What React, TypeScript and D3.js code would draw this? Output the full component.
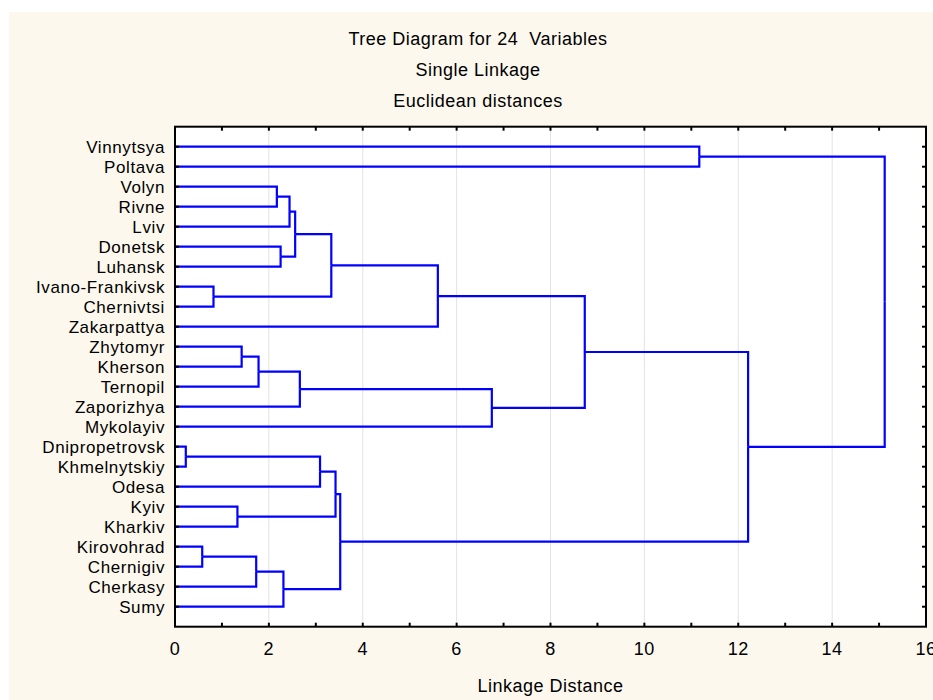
import React from "react";
import * as d3 from "d3";

// Leaf labels, in the order they are drawn from top to bottom
const leaves: string[] = [
  "Vinnytsya", "Poltava", "Volyn", "Rivne", "Lviv", "Donetsk", "Luhansk",
  "Ivano-Frankivsk", "Chernivtsi", "Zakarpattya", "Zhytomyr", "Kherson",
  "Ternopil", "Zaporizhya", "Mykolayiv", "Dnipropetrovsk", "Khmelnytskiy",
  "Odesa", "Kyiv", "Kharkiv", "Kirovohrad", "Chernigiv", "Cherkasy", "Sumy",
];

// Linkage matrix: [left id, right id, linkage distance].
// Ids below 24 are leaves; id 24 + k is the cluster formed in row k.
const merges: [number, number, number][] = [
  [15, 16, 0.23],
  [20, 21, 0.58],
  [7, 8, 0.82],
  [18, 19, 1.33],
  [10, 11, 1.42],
  [25, 22, 1.73],
  [28, 12, 1.78],
  [2, 3, 2.17],
  [5, 6, 2.25],
  [29, 23, 2.31],
  [31, 4, 2.44],
  [34, 32, 2.56],
  [30, 13, 2.66],
  [24, 17, 3.09],
  [35, 26, 3.33],
  [37, 27, 3.42],
  [39, 33, 3.52],
  [38, 9, 5.6],
  [36, 14, 6.75],
  [41, 42, 8.73],
  [0, 1, 11.17],
  [43, 40, 12.21],
  [44, 45, 15.12],
];

const xTicks: number[] = [0, 2, 4, 6, 8, 10, 12, 14, 16];
const titleLines: string[] = ["Tree Diagram for 24  Variables", "Single Linkage", "Euclidean distances"];
const xTitle = "Linkage Distance";

const W = 933;
const H = 700;
const plot = { left: 175, right: 926, top: 126.7, bottom: 626.7 };
const FONT = "'Liberation Sans', Arial, sans-serif";
const BLUE = "#0000ff";

type TreeDatum = { id: number; name?: string; dist: number; children?: TreeDatum[] };

function buildNode(id: number): TreeDatum {
  const n = leaves.length;
  if (id < n) return { id, name: leaves[id], dist: 0 };
  const [a, b, d] = merges[id - n];
  return { id, dist: d, children: [buildNode(a), buildNode(b)] };
}

export default function App() {
  const x = d3.scaleLinear().domain([0, 16]).range([plot.left, plot.right]);
  const y = d3.scaleLinear().domain([0, leaves.length + 1]).range([plot.top, plot.bottom]);

  const rootId = leaves.length + merges.length - 1;
  const root = d3.hierarchy<TreeDatum>(buildNode(rootId));
  const ypos = new Map<number, number>();
  root.eachAfter((node) => {
    if (!node.children) ypos.set(node.data.id, y(node.data.id + 1));
    else ypos.set(node.data.id, d3.mean(node.children, (c) => ypos.get(c.data.id)!)!);
  });

  const links = root.links().map((l) => {
    const p = d3.path();
    const cy = ypos.get(l.target.data.id)!;
    const py = ypos.get(l.source.data.id)!;
    p.moveTo(x(l.target.data.dist), cy);
    p.lineTo(x(l.source.data.dist), cy);
    p.lineTo(x(l.source.data.dist), py);
    return p.toString();
  });

  const unitTicks = d3.range(1, 16);
  const gridTicks = xTicks.filter((t) => t > 0 && t < 16);

  return (
    <div style={{ position: "absolute", left: 0, top: 0 }}>
      <svg width={W} height={H} style={{ display: "block" }}>
        <rect x={0} y={0} width={W} height={H} fill="#ffffff" />
        <rect x={9} y={12} width={W - 9} height={H - 12} fill="#fcf8ee" />
        <rect x={plot.left} y={plot.top} width={plot.right - plot.left} height={plot.bottom - plot.top} fill="#ffffff" />

        {gridTicks.map((t) => (
          <line key={"g" + t} x1={x(t)} x2={x(t)} y1={plot.top} y2={plot.bottom} stroke="#e3e3e3" strokeWidth={1} />
        ))}

        <g fill="none" stroke={BLUE} strokeWidth={2.2} strokeLinejoin="miter">
          {links.map((d, i) => (
            <path key={i} d={d} />
          ))}
        </g>

        {/* frame and inward ticks */}
        <g stroke="#000" strokeWidth={2}>
          {unitTicks.map((t) => (
            <g key={"t" + t}>
              <line x1={x(t)} x2={x(t)} y1={plot.top} y2={plot.top + 4} />
              <line x1={x(t)} x2={x(t)} y1={plot.bottom} y2={plot.bottom - 4} />
            </g>
          ))}
          {leaves.map((_, i) => (
            <g key={"r" + i}>
              <line x1={plot.left} x2={plot.left + 4} y1={y(i + 1)} y2={y(i + 1)} />
              <line x1={plot.right} x2={plot.right - 4} y1={y(i + 1)} y2={y(i + 1)} />
            </g>
          ))}
          <rect x={plot.left} y={plot.top} width={plot.right - plot.left} height={plot.bottom - plot.top} fill="none" />
        </g>

        <g fontFamily={FONT} fontSize={17} fill="#000" letterSpacing={0.6} textAnchor="end">
          {leaves.map((name, i) => (
            <text key={name} x={plot.left - 10} y={y(i + 1)} dy="0.36em">
              {name}
            </text>
          ))}
        </g>

        <g fontFamily={FONT} fontSize={18} fill="#000" letterSpacing={0.5} textAnchor="middle">
          {xTicks.map((t) => (
            <text key={"l" + t} x={x(t)} y={655}>
              {t}
            </text>
          ))}
          <text x={(plot.left + plot.right) / 2} y={692}>
            {xTitle}
          </text>
          {titleLines.map((s, i) => (
            <text key={s} x={478} y={45 + i * 31} style={{ whiteSpace: "pre" }}>
              {s}
            </text>
          ))}
        </g>
      </svg>
    </div>
  );
}
